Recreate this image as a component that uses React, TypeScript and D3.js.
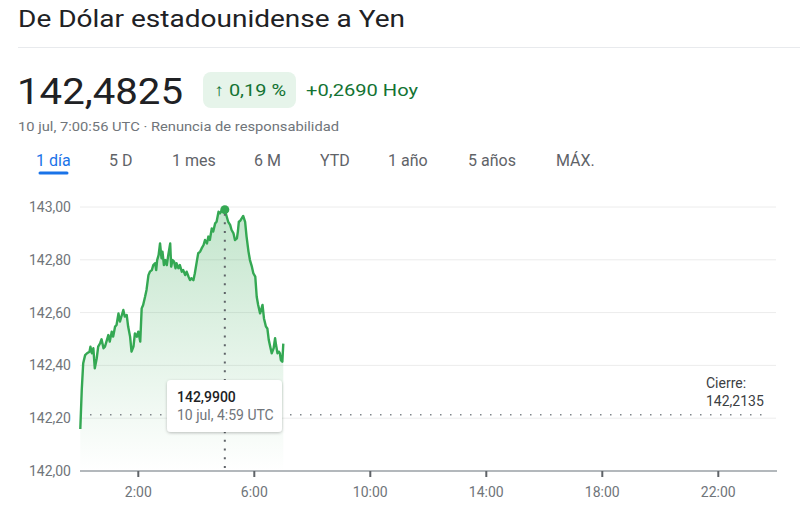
import React from "react";
import * as d3 from "d3";

// ---- Data ----
const minutes = [
  0, 3, 6, 10, 14, 19, 21, 24, 27, 30,
  34, 37, 41, 44, 48, 51, 55, 58, 61, 65,
  68, 72, 75, 79, 82, 86, 89, 92, 96, 99,
  103, 106, 110, 113, 117, 120, 124, 127, 130, 134,
  137, 141, 144, 148, 151, 155, 157, 159, 162, 165,
  168, 170, 173, 176, 179, 182, 186, 188, 191, 194,
  197, 199, 203, 206, 210, 213, 217, 220, 224, 227,
  230, 234, 237, 241, 244, 248, 251, 255, 258, 262,
  265, 268, 272, 275, 279, 282, 286, 289, 292, 296,
  299, 303, 306, 310, 313, 317, 320, 324, 326, 328,
  331, 334, 337, 341, 344, 348, 351, 355, 358, 362,
  365, 368, 372, 375, 377, 380, 384, 387, 390, 393,
  396, 400, 403, 405, 408, 411, 413, 415, 418, 420,
];
const prices = [
  142.159, 142.307, 142.408, 142.439, 142.446, 142.452, 142.471, 142.446, 142.465, 142.389,
  142.427, 142.471, 142.484, 142.499, 142.465, 142.471, 142.496, 142.515, 142.49, 142.528,
  142.509, 142.547, 142.553, 142.597, 142.566, 142.591, 142.61, 142.585, 142.591, 142.547,
  142.509, 142.452, 142.471, 142.521, 142.509, 142.528, 142.49, 142.616, 142.629, 142.66,
  142.686, 142.742, 142.755, 142.761, 142.78, 142.787, 142.761, 142.799, 142.818, 142.862,
  142.806, 142.831, 142.78, 142.799, 142.78, 142.818, 142.862, 142.774, 142.799, 142.793,
  142.768, 142.787, 142.768, 142.78, 142.755, 142.761, 142.742, 142.755, 142.736, 142.723,
  142.73, 142.723, 142.749, 142.793, 142.825, 142.831, 142.843, 142.856, 142.875, 142.862,
  142.888, 142.875, 142.919, 142.907, 142.938, 142.944, 142.982, 142.976, 142.985, 142.985,
  142.99, 142.963, 142.944, 142.932, 142.913, 142.9, 142.875, 142.881, 142.907, 142.944,
  142.948, 142.957, 142.966, 142.944, 142.888, 142.831, 142.799, 142.774, 142.749, 142.736,
  142.66, 142.629, 142.597, 142.616, 142.629, 142.578, 142.547, 142.54, 142.496, 142.471,
  142.446, 142.465, 142.503, 142.477, 142.446, 142.452, 142.446, 142.42, 142.414, 142.4825,
];
const yTicks = [142.0, 142.2, 142.4, 142.6, 142.8, 143.0];
const xTickHours = [2, 6, 10, 14, 18, 22];
const tabs = ["1 día", "5 D", "1 mes", "6 M", "YTD", "1 año", "5 años", "MÁX."];
const tabX = [36, 109, 172, 254, 320, 388, 468, 556];
const closePrice = 142.2135;
const hoverMinute = 299;
const hoverPrice = 142.99;

const fmt = (v: number, d: number) => v.toFixed(d).replace(".", ",");

export default function App() {
  const x = d3.scaleLinear().domain([0, 1440]).range([80.3, 776.3]);
  const y = d3.scaleLinear().domain([142, 143]).range([471, 207]);
  const data = minutes.map((m, i) => ({ m, v: prices[i] }));
  const line = d3
    .line<{ m: number; v: number }>()
    .x((d) => x(d.m))
    .y((d) => y(d.v))(data) as string;
  const area = d3
    .area<{ m: number; v: number }>()
    .x((d) => x(d.m))
    .y0(y(142))
    .y1((d) => y(d.v))(data) as string;

  const font = "Roboto, 'Noto Sans', Arial, sans-serif";
  const green = "#34a853";

  return (
    <svg
      width={800}
      height={513}
      style={{ position: "absolute", left: 0, top: 0, background: "#fff" }}
      fontFamily={font}
    >
      <defs>
        <linearGradient id="areaGrad" gradientUnits="userSpaceOnUse" x1="0" y1={y(143)} x2="0" y2={y(142)}>
          <stop offset="0" stopColor={green} stopOpacity={0.3} />
          <stop offset="1" stopColor={green} stopOpacity={0.0} />
        </linearGradient>
        <filter id="shadow" x="-20%" y="-30%" width="140%" height="160%">
          <feDropShadow dx="0" dy="1" stdDeviation="1.5" floodColor="#000" floodOpacity="0.25" />
        </filter>
      </defs>

      {/* Header */}
      <text x={18} y={27} fontSize={23} fill="#202124" textLength={387} lengthAdjust="spacingAndGlyphs">
        De Dólar estadounidense a Yen
      </text>
      <line x1={18} x2={800} y1={47.5} y2={47.5} stroke="#e8eaed" strokeWidth={1} />

      <text x={17} y={104} fontSize={36} fill="#202124" textLength={166} lengthAdjust="spacingAndGlyphs">
        142,4825
      </text>
      <rect x={203} y={72} width={93} height={36} rx={8} fill="#e6f4ea" />
      <text x={214} y={96} fontSize={17} fill="#137333" textLength={72} lengthAdjust="spacingAndGlyphs">
        ↑ 0,19 %
      </text>
      <text x={306} y={96} fontSize={17} fill="#137333" textLength={112} lengthAdjust="spacingAndGlyphs">
        +0,2690 Hoy
      </text>
      <text x={18} y={131} fontSize={13} fill="#70757a" textLength={321} lengthAdjust="spacingAndGlyphs">
        10 jul, 7:00:56 UTC · Renuncia de responsabilidad
      </text>

      {/* Tabs */}
      {tabs.map((t, i) => (
        <text key={t} x={tabX[i]} y={166} fontSize={16} fill={i === 0 ? "#1a73e8" : "#5f6368"}>
          {t}
        </text>
      ))}
      <rect x={38.5} y={171.5} width={30} height={3} rx={1.5} fill="#1a73e8" />

      {/* Grid */}
      {yTicks.slice(1).map((t) => (
        <line key={t} x1={80} x2={776} y1={y(t)} y2={y(t)} stroke="#ececec" strokeWidth={1} />
      ))}
      {yTicks.map((t) => (
        <text key={"l" + t} x={71} y={y(t) + 5} fontSize={14} fill="#70757a" textAnchor="end">
          {fmt(t, 2)}
        </text>
      ))}

      {/* Area + line */}
      <path d={area} fill="url(#areaGrad)" />
      <path d={line} fill="none" stroke={green} strokeWidth={2.4} strokeLinejoin="round" />

      {/* Close dotted line */}
      <line
        x1={90}
        x2={770}
        y1={y(closePrice)}
        y2={y(closePrice)}
        stroke="#80868b"
        strokeWidth={1.5}
        strokeDasharray="1.5 8.5"
      />
      <text x={706} y={388} fontSize={14} fill="#3c4043">Cierre:</text>
      <text x={706} y={406} fontSize={14} fill="#3c4043">{fmt(closePrice, 4)}</text>

      {/* X axis */}
      <line x1={80} x2={777} y1={471} y2={471} stroke="#9aa0a6" strokeWidth={1.5} />
      {xTickHours.map((h) => (
        <g key={h}>
          <line x1={x(h * 60)} x2={x(h * 60)} y1={471} y2={477} stroke="#5f6368" strokeWidth={2} />
          <text x={x(h * 60)} y={497} fontSize={14} fill="#70757a" textAnchor="middle">
            {`${h}:00`}
          </text>
        </g>
      ))}

      {/* Hover */}
      <line
        x1={x(hoverMinute)}
        x2={x(hoverMinute)}
        y1={y(hoverPrice) + 4}
        y2={471}
        stroke="#5f6368"
        strokeWidth={2}
        strokeDasharray="2 6.7"
      />
      <circle cx={x(hoverMinute)} cy={y(hoverPrice)} r={4.5} fill={green} />
      <g filter="url(#shadow)">
        <rect x={167} y={380} width={115} height={52} rx={4} fill="#fff" />
      </g>
      <text x={177} y={402} fontSize={14} fill="#202124" fontWeight={500}>
        {fmt(hoverPrice, 4)}
      </text>
      <text x={177} y={420} fontSize={14} fill="#70757a">
        10 jul, 4:59 UTC
      </text>
    </svg>
  );
}
